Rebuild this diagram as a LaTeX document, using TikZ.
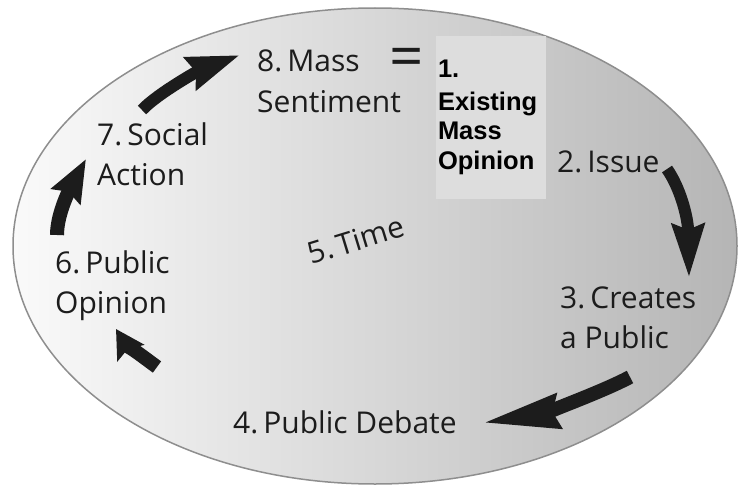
\documentclass[tikz,border=0pt]{standalone}
\usepackage{fontspec}
\setmainfont{Open Sans}
\newfontfamily\arialfont{Liberation Sans}
\usetikzlibrary{arrows.meta}
\definecolor{inkgray}{HTML}{1C1C1C}
\definecolor{boxgray}{HTML}{DDDDDD}
\definecolor{rimgray}{HTML}{8E8E8E}

\tikzset{
  stage/.style={anchor=base west, inner sep=0pt, align=left, text=inkgray,
    font=\fontsize{30}{40}\selectfont},
  cyclearrow/.style n args={3}{draw=inkgray, line width=#1,
    -{Stealth[length=#2, width=#3, inset=5pt]}}
}

\begin{document}
\begin{tikzpicture}[x=1pt, y=-1pt]
    \useasboundingbox (0,0) rectangle (739,487);

    % background ellipse
    \shade[left color=black!2, middle color=black!14, right color=black!29, draw=rimgray, line width=1.5pt]
        (375,246) ellipse [x radius=362, y radius=238];

    % stage labels (base = last line)
    \node[stage] (mass) at (257,112) {8.\,Mass\\Sentiment};
    \node[font=\fontsize{60}{60}\selectfont, text=inkgray, inner sep=0pt] (equals) at (407,63) {=};
    \node[fill=boxgray, minimum width=110, minimum height=163, inner xsep=2pt,
          text width=106, align=left, text=black, font=\arialfont\bfseries\fontsize{25.5}{29.5}\selectfont]
        (existing) at (491,117.5) {1.\\[3pt]Existing\\Mass\\Opinion};
    \node[stage] (issue) at (557,172) {2.\,Issue};
    \node[stage] (creates) at (560,348) {3.\,Creates\\a Public};
    \node[stage] (debate) at (233,433) {4.\,Public Debate};
    \node[stage, anchor=center, rotate=17] (time) at (356,240) {5.\,Time};
    \node[stage] (opinion) at (55,313) {6.\,Public\\Opinion};
    \node[stage] (social) at (97,185) {7.\,Social\\Action};

    % arrow ends
    \coordinate (issue-tail) at (667,169);
    \coordinate (creates-tip) at (689,278);
    \coordinate (creates-tail) at (630,377);
    \coordinate (debate-tip) at (482,423);
    \coordinate (debate-tail) at (157,367);
    \coordinate (opinion-tip) at (116,329);
    \coordinate (opinion-tail) at (57,235);
    \coordinate (social-tip) at (86,159);
    \coordinate (social-tail) at (142,110);
    \coordinate (mass-tip) at (240,55);

    % cycle arrows
    \draw[cyclearrow={12pt}{53pt}{31pt}] (issue-tail) .. controls (679,186) and (688,215) .. (creates-tip);
    \draw[cyclearrow={14pt}{76pt}{33pt}] (creates-tail) .. controls (600,393) and (540,414) .. (debate-tip);
    \draw[cyclearrow={14pt}{28pt}{31pt}] (debate-tail) .. controls (146,359) and (124,342) .. (opinion-tip);
    \draw[cyclearrow={14pt}{42pt}{32pt}] (opinion-tail) .. controls (57,212) and (72,185) .. (social-tip);
    \draw[cyclearrow={12pt}{52pt}{33pt}] (social-tail) .. controls (158,93) and (200,70) .. (mass-tip);
\end{tikzpicture}
\end{document}
